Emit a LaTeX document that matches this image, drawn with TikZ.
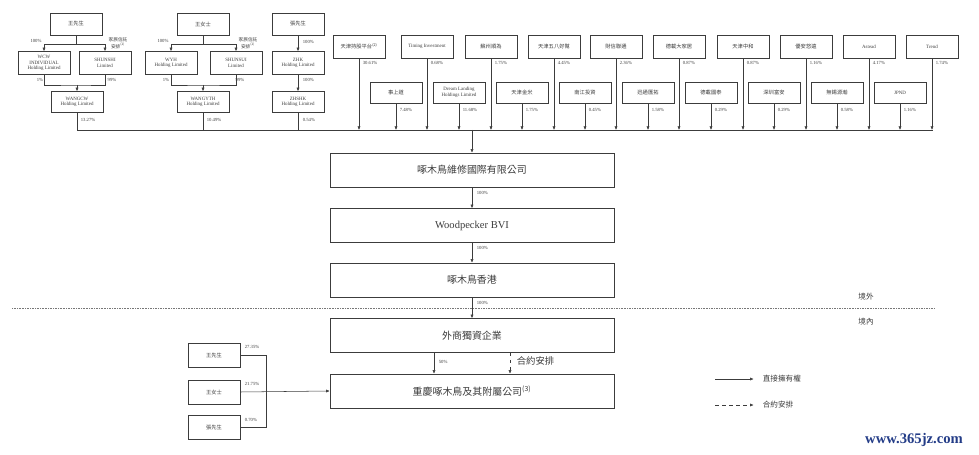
\documentclass[tikz,border=0pt]{standalone}
\usepackage{fontspec}
\setmainfont{Liberation Serif}
\newfontfamily\cjk{Noto Sans CJK TC}
\usetikzlibrary{arrows.meta}
\definecolor{ink}{RGB}{60,60,60}
\definecolor{wmblue}{RGB}{35,60,135}
\tikzset{
  box/.style={draw=ink, line width=0.45pt, minimum width=1.56cm, minimum height=0.66cm, inner sep=0.5pt, align=center, text=ink, font=\fontsize{4.2}{4.8}\selectfont},
  cbox/.style={box, font=\cjk\fontsize{4.5}{5}\selectfont},
  bigbox/.style={draw=ink, line width=0.45pt, minimum width=8.52cm, minimum height=1.02cm, text=ink, font=\cjk\fontsize{8.5}{10}\selectfont},
  pct/.style={anchor=west, inner sep=0.5pt, text=ink, font=\fontsize{4}{4.5}\selectfont},
  note/.style={inner sep=0.5pt, text=ink, align=center, font=\cjk\fontsize{4}{4.6}\selectfont},
  arr/.style={-{Latex[length=3pt,width=2.6pt]}, draw=ink, line width=0.45pt},
  ln/.style={draw=ink, line width=0.45pt}
}
\begin{document}
\begin{tikzpicture}[x=0.03cm,y=-0.03cm]
    \useasboundingbox (0,0) rectangle (979,455);
    % founders
    \node[cbox] (M1) at (76,24) {王先生};
    \node[cbox] (M2) at (203,24) {王女士};
    \node[cbox] (M3) at (298,24) {張先生};
    \node[box,minimum height=0.69cm] (WCW) at (44,63) {WCW\\INDIVIDUAL\\Holding Limited};
    \node[box,minimum height=0.69cm] (SS1) at (105,63) {SHUNSHI\\Limited};
    \node[box,minimum height=0.69cm] (WYH) at (171,63) {WYH\\Holding Limited};
    \node[box,minimum height=0.69cm] (SS2) at (236,63) {SHUNSUI\\Limited};
    \node[box,minimum height=0.69cm] (ZHK) at (298,63) {ZHK\\Holding Limited};
    \node[box,minimum height=0.63cm] (WANGCW) at (77,102) {WANGCW\\Holding Limited};
    \node[box,minimum height=0.63cm] (WANGYTH) at (203,102) {WANGYTH\\Holding Limited};
    \node[box,minimum height=0.63cm] (ZHSHK) at (298,102) {ZHSHK\\Holding Limited};
    \coordinate (j1) at (76,44);
    \coordinate (j2) at (203,44);
    \coordinate (k1) at (77,85);
    \coordinate (k2) at (203,85);
    \draw[arr] (M1.south) |- (WCW.north |- j1) -- (WCW.north);
    \draw[arr] (M1.south) |- (SS1.north |- j1) -- (SS1.north);
    \draw[arr] (M2.south) |- (WYH.north |- j2) -- (WYH.north);
    \draw[arr] (M2.south) |- (SS2.north |- j2) -- (SS2.north);
    \draw[arr] (M3) -- (ZHK);
    \draw[ln] (WCW.south) |- (k1) -| (SS1.south);
    \draw[ln] (WYH.south) |- (k2) -| (SS2.south);
    \draw[arr] (k1) -- (WANGCW.north);
    \draw[arr] (k2) -- (WANGYTH.north);
    \draw[arr] (ZHK) -- (ZHSHK);
    \node[pct,anchor=center] (p1) at (36,41) {100\%};
    \node[note] (n1) at (118,43) {家族信託\\安排\textsuperscript{(1)}};
    \node[pct,anchor=center] (p2) at (163,41) {100\%};
    \node[note] (n2) at (248,43) {家族信託\\安排\textsuperscript{(1)}};
    \node[pct] (p3) at (302,42) {100\%};
    \node[pct,anchor=center] (p4) at (40,80) {1\%};
    \node[pct,anchor=center] (p5) at (112,80) {99\%};
    \node[pct,anchor=center] (p6) at (166,80) {1\%};
    \node[pct,anchor=center] (p7) at (240,80) {99\%};
    \node[pct] (p8) at (302,80) {100\%};
    % investors, upper row
    \node[cbox,minimum height=0.69cm] (T1) at (359,46.5) {天津持股平台\textsuperscript{(2)}};
    \node[box,minimum height=0.69cm] (T2) at (427,46.5) {Timing Investment};
    \node[cbox,minimum height=0.69cm] (T3) at (491,46.5) {蘇州順為};
    \node[cbox,minimum height=0.69cm] (T4) at (554,46.5) {天津五八好幫};
    \node[cbox,minimum height=0.69cm] (T5) at (616,46.5) {財信聯通};
    \node[cbox,minimum height=0.69cm] (T6) at (679,46.5) {德載大家居};
    \node[cbox,minimum height=0.69cm] (T7) at (743,46.5) {天津中和};
    \node[cbox,minimum height=0.69cm] (T8) at (806,46.5) {優安悠遠};
    \node[box,minimum height=0.69cm] (T9) at (869,46.5) {Astead};
    \node[box,minimum height=0.69cm] (T10) at (932,46.5) {Trend};
    % investors, lower row
    \node[cbox,minimum height=0.63cm] (U1) at (396,92.5) {事上道};
    \node[box,minimum height=0.63cm] (U2) at (459,92.5) {Dream Landing\\Holdings Limited};
    \node[cbox,minimum height=0.63cm] (U3) at (522,92.5) {天津金米};
    \node[cbox,minimum height=0.63cm] (U4) at (585,92.5) {南江投資};
    \node[cbox,minimum height=0.63cm] (U5) at (648,92.5) {迅通匯拓};
    \node[cbox,minimum height=0.63cm] (U6) at (711,92.5) {德載國泰};
    \node[cbox,minimum height=0.63cm] (U7) at (774,92.5) {深圳富安};
    \node[cbox,minimum height=0.63cm] (U8) at (837,92.5) {無錫源瀚};
    \node[box,minimum height=0.63cm] (U9) at (900,92.5) {JPND};
    % bus
    \coordinate (busL) at (77,130);
    \coordinate (busR) at (933,130);
    \draw[ln] (busL) -- (busR);
    \draw[ln] (WANGCW) -- (WANGCW |- busL);
    \draw[ln] (WANGYTH) -- (WANGYTH |- busL);
    \draw[ln] (ZHSHK) -- (ZHSHK |- busL);
    \node[pct] (q1) at (80,120) {13.27\%};
    \node[pct] (q2) at (206,120) {10.49\%};
    \node[pct] (q3) at (302,120) {0.54\%};
    \draw[arr] (T1) -- (T1 |- busL);
    \draw[arr] (T2) -- (T2 |- busL);
    \draw[arr] (T3) -- (T3 |- busL);
    \draw[arr] (T4) -- (T4 |- busL);
    \draw[arr] (T5) -- (T5 |- busL);
    \draw[arr] (T6) -- (T6 |- busL);
    \draw[arr] (T7) -- (T7 |- busL);
    \draw[arr] (T8) -- (T8 |- busL);
    \draw[arr] (T9) -- (T9 |- busL);
    \draw[arr] (T10) -- (T10 |- busL);
    \draw[arr] (U1) -- (U1 |- busL);
    \draw[arr] (U2) -- (U2 |- busL);
    \draw[arr] (U3) -- (U3 |- busL);
    \draw[arr] (U4) -- (U4 |- busL);
    \draw[arr] (U5) -- (U5 |- busL);
    \draw[arr] (U6) -- (U6 |- busL);
    \draw[arr] (U7) -- (U7 |- busL);
    \draw[arr] (U8) -- (U8 |- busL);
    \draw[arr] (U9) -- (U9 |- busL);
    \node[pct] (r1) at (362,63) {30.61\%};
    \node[pct] (r2) at (430,63) {0.68\%};
    \node[pct] (r3) at (494,63) {1.75\%};
    \node[pct] (r4) at (557,63) {4.45\%};
    \node[pct] (r5) at (619,63) {2.36\%};
    \node[pct] (r6) at (682,63) {0.87\%};
    \node[pct] (r7) at (746,63) {0.87\%};
    \node[pct] (r8) at (809,63) {1.16\%};
    \node[pct] (r9) at (872,63) {4.17\%};
    \node[pct] (r10) at (935,63) {1.74\%};
    \node[pct] (s1) at (399,110) {7.48\%};
    \node[pct] (s2) at (462,110) {11.68\%};
    \node[pct] (s3) at (525,110) {1.75\%};
    \node[pct] (s4) at (588,110) {0.45\%};
    \node[pct] (s5) at (651,110) {1.58\%};
    \node[pct] (s6) at (714,110) {0.29\%};
    \node[pct] (s7) at (777,110) {0.29\%};
    \node[pct] (s8) at (840,110) {0.58\%};
    \node[pct] (s9) at (903,110) {1.16\%};
    % main chain
    \node[bigbox] (A) at (472,170) {啄木鳥維修國際有限公司};
    \node[bigbox,font=\fontsize{9}{10}\selectfont] (B) at (472,225.5) {Woodpecker BVI};
    \node[bigbox] (C) at (472,280) {啄木鳥香港};
    \node[bigbox] (D) at (472,335.5) {外商獨資企業};
    \node[bigbox] (E) at (472,391) {重慶啄木鳥及其附屬公司\textsuperscript{(3)}};
    \draw[arr] (A.north |- busL) -- (A.north);
    \draw[arr] (A) -- (B);
    \draw[arr] (B) -- (C);
    \draw[arr] (C) -- (D);
    \node[pct] (a1) at (476,193) {100\%};
    \node[pct] (a2) at (476,248) {100\%};
    \node[pct] (a3) at (476,303) {100\%};
    \draw[arr] ([xshift=-1.14cm]D.south) -- ([xshift=-1.14cm]E.north);
    \draw[arr,dashed] ([xshift=1.14cm]D.south) -- ([xshift=1.14cm]E.north);
    \node[pct] (a4) at (438,362) {50\%};
    \node[note,anchor=west,font=\cjk\fontsize{8}{9}\selectfont] (a5) at (516,361) {合約安排};
    % border line
    \coordinate (dl) at (12,308);
    \coordinate (dr) at (935,308);
    \draw[ink!70,line width=0.4pt,dash pattern=on 0.7pt off 0.7pt] (dl) -- (dr);
    \node[note,font=\cjk\fontsize{6.5}{7}\selectfont] (out) at (866,297) {境外};
    \node[note,font=\cjk\fontsize{6.5}{7}\selectfont] (in) at (866,322) {境內};
    % direct holders
    \node[cbox,minimum height=0.72cm] (P1) at (214,355.5) {王先生};
    \node[cbox,minimum height=0.72cm] (P2) at (214,392) {王女士};
    \node[cbox,minimum height=0.72cm] (P3) at (214,427.5) {張先生};
    \coordinate (jx) at (266,392);
    \draw[ln] (P1.east) -| (jx);
    \draw[ln] (P3.east) -| (jx);
    \draw[arr] (P2.east) -- (E.west);
    \node[pct] (b1) at (244,347) {27.35\%};
    \node[pct] (b2) at (244,384) {21.75\%};
    \node[pct] (b3) at (244,420) {0.70\%};
    % legend
    \node[note,anchor=west,font=\cjk\fontsize{6.5}{7}\selectfont] (leg1) at (762,379) {直接擁有權};
    \node[note,anchor=west,font=\cjk\fontsize{6.5}{7}\selectfont] (leg2) at (762,405) {合約安排};
    \coordinate (l1) at (715,379);
    \coordinate (l2) at (715,405);
    \draw[arr] (l1) -- ([xshift=-0.25cm]leg1.west);
    \draw[arr,dashed] (l2) -- ([xshift=-0.25cm]leg2.west);
    \node[text=wmblue,font=\bfseries\fontsize{12.5}{13}\selectfont] (wm) at (914,440) {www.365jz.com};
\end{tikzpicture}
\end{document}
